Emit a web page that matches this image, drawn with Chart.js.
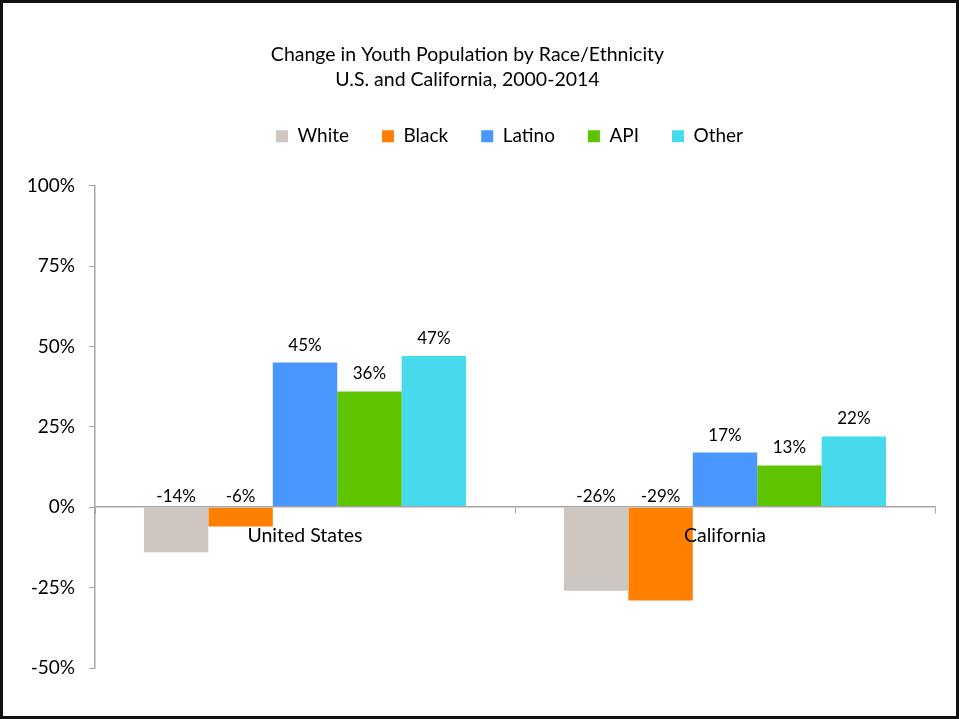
<!DOCTYPE html>
<html>
<head>
<meta charset="utf-8">
<script src="https://cdn.jsdelivr.net/npm/chart.js@4.4.1/dist/chart.umd.min.js"></script>
<style>
  body { margin: 0; background: #fff; }
  #wrap { width: 959px; height: 719px; }
</style>
</head>
<body>
<div id="wrap"><canvas id="barChart" width="959" height="719"></canvas></div>
<script>
// data
var regions = ['United States', 'California'];
var groups = ['White', 'Black', 'Latino', 'API', 'Other'];
var white = [-14, -26];
var black = [-6, -29];
var latino = [45, 17];
var api = [36, 13];
var other = [47, 22];
var yTicks = [-50, -25, 0, 25, 50, 75, 100];

var colors = ['#CEC7C1', '#FF7F00', '#4A96FF', '#5FC400', '#46DAEC'];
var series = [white, black, latino, api, other];
var FONT = 'Lato, "Open Sans", sans-serif';

function makeSets() {
  var sets = [];
  series.forEach(function (vals, i) {
    sets.push({
      label: groups[i],
      data: vals,
      backgroundColor: colors[i],
      borderWidth: 0,
      barPercentage: 1,
      categoryPercentage: 0.767
    });
  });
  return sets;
}

// value labels sit above the bar top, or just above the zero line for negatives
var valueLabels = {
  id: 'valueLabels',
  afterDatasetsDraw: function (chart) {
    var ctx = chart.ctx;
    ctx.save();
    ctx.font = '17px ' + FONT;
    ctx.fillStyle = '#000';
    ctx.textAlign = 'center';
    ctx.textBaseline = 'bottom';
    chart.data.datasets.forEach(function (ds, i) {
      chart.getDatasetMeta(i).data.forEach(function (bar, j) {
        var y = ds.data[j] < 0 ? bar.base - 3 : bar.y - 9;
        ctx.fillText(ds.data[j] + '%', bar.x, y);
      });
    });
    ctx.restore();
  }
};

// extra room between legend and plot, legend centred over the plot area
var legendGap = {
  id: 'legendGap',
  beforeInit: function (chart) {
    var fit = chart.legend.fit;
    chart.legend.fit = function () {
      fit.call(this);
      this.height += 30;
    };
  },
  afterLayout: function (chart) {
    chart.legend.left += 42;
    chart.legend.right += 42;
  }
};

var frame = {
  id: 'frame',
  afterDraw: function (chart) {
    var ctx = chart.ctx;
    ctx.save();
    ctx.strokeStyle = '#111';
    ctx.lineWidth = 3;
    ctx.strokeRect(1.5, 1.5, chart.width - 3, chart.height - 3);
    ctx.restore();
  }
};

var ctx = document.getElementById('barChart');
var myChart = new Chart(ctx, {
  type: 'bar',
  data: {
    labels: regions,
    datasets: makeSets()
  },
  plugins: [valueLabels, legendGap, frame],
  options: {
    responsive: false,
    animation: false,
    layout: { padding: { left: 0, right: 24, top: 0, bottom: 51 } },
    plugins: {
      title: {
        display: true,
        text: ['Change in Youth Population by Race/Ethnicity', 'U.S. and California, 2000-2014'],
        color: '#000',
        font: { family: FONT, size: 19.5, weight: 'normal', lineHeight: 1.3 },
        padding: { top: 42, bottom: 1 }
      },
      legend: {
        position: 'top',
        labels: {
          color: '#000',
          font: { family: FONT, size: 19 },
          boxWidth: 12,
          boxHeight: 12,
          padding: 33
        }
      },
      tooltip: { enabled: false }
    },
    scales: {
      x: {
        position: { y: 0 },
        grid: { offset: true, drawOnChartArea: false, tickLength: 6, color: '#a6a6a6' },
        border: { color: '#a6a6a6', width: 1.5, z: 1 },
        ticks: { color: '#000', font: { family: FONT, size: 19.5 }, padding: 11, z: 1 }
      },
      y: {
        min: -50,
        max: 100,
        afterBuildTicks: function (scale) {
          scale.ticks = yTicks.map(function (v) { return { value: v }; });
        },
        afterFit: function (scale) { scale.width = 95; },
        grid: { drawOnChartArea: false, tickLength: 6, color: '#a6a6a6' },
        border: { color: '#a6a6a6', width: 1.5 },
        ticks: {
          color: '#000',
          font: { family: FONT, size: 19 },
          padding: 14,
          callback: function (v) { return v + '%'; }
        }
      }
    }
  }
});
</script>
</body>
</html>
